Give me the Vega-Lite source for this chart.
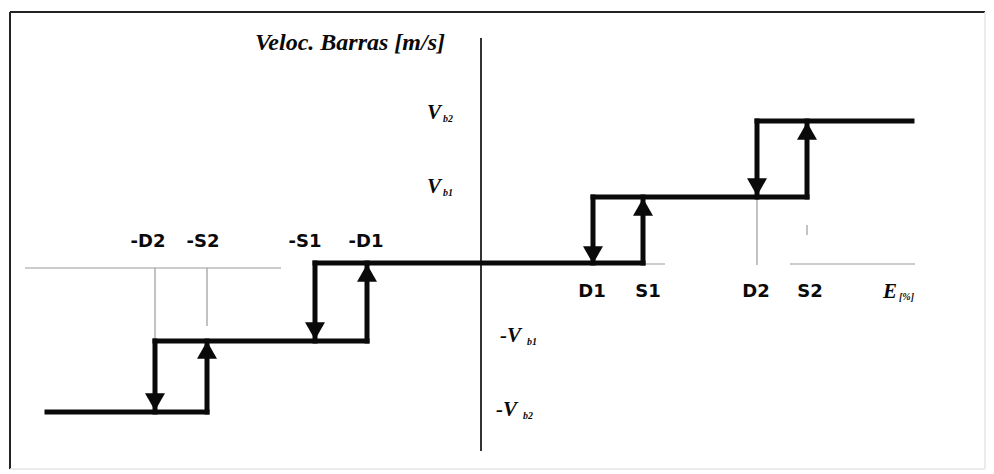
{
  "$schema": "https://vega.github.io/schema/vega-lite/v6.json",
  "width": 994,
  "height": 474,
  "autosize": {"type": "fit", "contains": "padding"},
  "padding": 0,
  "background": "white",
  "config": {"view": {"stroke": null}},
  "datasets": {
    "frameDark": [
      {"x": -4.71, "x2": -4.71, "y": 2.52, "y2": -2.05},
      {"x": -4.71, "x2": 5.04, "y": 2.52, "y2": 2.52}
    ],
    "frameLight": [
      {"x": 5.04, "x2": 5.04, "y": 2.52, "y2": -2.05},
      {"x": -4.71, "x2": 5.04, "y": -2.05, "y2": -2.05}
    ],
    "axes": [
      {"x": 0, "x2": 0, "y": 2.26, "y2": -1.87}
    ],
    "guides": [
      {"x": -4.56, "x2": -2.0, "y": -0.04, "y2": -0.04},
      {"x": -1.66, "x2": 1.84, "y": 0.0, "y2": 0.0},
      {"x": 3.09, "x2": 4.34, "y": 0.0, "y2": 0.0},
      {"x": -3.26, "x2": -3.26, "y": -0.04, "y2": -0.77},
      {"x": -2.74, "x2": -2.74, "y": -0.04, "y2": -0.62},
      {"x": 2.76, "x2": 2.76, "y": 0.67, "y2": -0.01},
      {"x": 3.26, "x2": 3.26, "y": 0.39, "y2": 0.29}
    ],
    "steps": [
      {"x": -4.34, "x2": -2.74, "y": -1.48, "y2": -1.48},
      {"x": -2.74, "x2": -2.74, "y": -1.48, "y2": -0.77},
      {"x": -3.26, "x2": -3.26, "y": -1.48, "y2": -0.77},
      {"x": -3.26, "x2": -1.14, "y": -0.77, "y2": -0.77},
      {"x": -1.14, "x2": -1.14, "y": -0.77, "y2": 0.01},
      {"x": -1.66, "x2": -1.66, "y": -0.77, "y2": 0.01},
      {"x": -1.66, "x2": 1.62, "y": 0.01, "y2": 0.01},
      {"x": 1.12, "x2": 1.12, "y": 0.01, "y2": 0.67},
      {"x": 1.62, "x2": 1.62, "y": 0.01, "y2": 0.67},
      {"x": 1.12, "x2": 3.26, "y": 0.67, "y2": 0.67},
      {"x": 2.76, "x2": 2.76, "y": 0.67, "y2": 1.43},
      {"x": 3.26, "x2": 3.26, "y": 0.67, "y2": 1.43},
      {"x": 2.76, "x2": 4.31, "y": 1.43, "y2": 1.43}
    ],
    "arrows": [
      {"x": -2.74, "y": -0.86, "dir": "up"},
      {"x": -1.14, "y": -0.09, "dir": "up"},
      {"x": 1.62, "y": 0.57, "dir": "up"},
      {"x": 3.26, "y": 1.33, "dir": "up"},
      {"x": -3.26, "y": -1.38, "dir": "down"},
      {"x": -1.66, "y": -0.67, "dir": "down"},
      {"x": 1.12, "y": 0.09, "dir": "down"},
      {"x": 2.76, "y": 0.77, "dir": "down"}
    ],
    "tickLabels": [
      {"x": -3.33, "y": 0.22, "label": "-D2"},
      {"x": -2.78, "y": 0.22, "label": "-S2"},
      {"x": -1.76, "y": 0.22, "label": "-S1"},
      {"x": -1.15, "y": 0.22, "label": "-D1"},
      {"x": 1.11, "y": -0.28, "label": "D1"},
      {"x": 1.67, "y": -0.28, "label": "S1"},
      {"x": 2.75, "y": -0.28, "label": "D2"},
      {"x": 3.29, "y": -0.28, "label": "S2"}
    ],
    "title": [
      {"x": -1.31, "y": 2.21, "label": "Veloc. Barras [m/s]"}
    ],
    "symbols": [
      {"x": -0.54, "y": 1.51, "label": "V"},
      {"x": -0.54, "y": 0.77, "label": "V"},
      {"x": 0.19, "y": -0.72, "label": "-V"},
      {"x": 0.15, "y": -1.46, "label": "-V"},
      {"x": 4.02, "y": -0.28, "label": "E"}
    ],
    "subs": [
      {"x": -0.38, "y": 1.45, "label": "b2"},
      {"x": -0.38, "y": 0.71, "label": "b1"},
      {"x": 0.46, "y": -0.78, "label": "b1"},
      {"x": 0.42, "y": -1.52, "label": "b2"},
      {"x": 4.18, "y": -0.33, "label": "[%]"}
    ]
  },
  "encoding": {
    "x": {"field": "x", "type": "quantitative", "axis": null,
          "scale": {"domain": [-4.81, 5.13], "nice": false, "zero": false}},
    "y": {"field": "y", "type": "quantitative", "axis": null,
          "scale": {"domain": [-2.10, 2.64], "nice": false, "zero": false}}
  },
  "layer": [
    {
      "data": {"name": "frameDark"},
      "mark": {"type": "rule", "stroke": "#222", "strokeWidth": 2},
      "encoding": {"x2": {"field": "x2"}, "y2": {"field": "y2"}}
    },
    {
      "data": {"name": "frameLight"},
      "mark": {"type": "rule", "stroke": "#e4e4e4", "strokeWidth": 1.5},
      "encoding": {"x2": {"field": "x2"}, "y2": {"field": "y2"}}
    },
    {
      "data": {"name": "guides"},
      "mark": {"type": "rule", "stroke": "#9a9a9a", "strokeWidth": 1.2},
      "encoding": {"x2": {"field": "x2"}, "y2": {"field": "y2"}}
    },
    {
      "data": {"name": "axes"},
      "mark": {"type": "rule", "stroke": "#333", "strokeWidth": 2},
      "encoding": {"x2": {"field": "x2"}, "y2": {"field": "y2"}}
    },
    {
      "data": {"name": "steps"},
      "mark": {"type": "rule", "stroke": "#0a0a0a", "strokeWidth": 5, "strokeCap": "square"},
      "encoding": {"x2": {"field": "x2"}, "y2": {"field": "y2"}}
    },
    {
      "data": {"name": "arrows"},
      "mark": {"type": "point", "filled": true, "color": "#0a0a0a", "size": 400, "opacity": 1},
      "encoding": {
        "shape": {"field": "dir", "type": "nominal", "legend": null,
                  "scale": {"domain": ["up", "down"], "range": ["triangle-up", "triangle-down"]}}
      }
    },
    {
      "data": {"name": "tickLabels"},
      "mark": {"type": "text", "font": "DejaVu Sans", "fontWeight": "bold", "fontSize": 18,
               "align": "center", "baseline": "middle", "color": "#0a0a0a"},
      "encoding": {"text": {"field": "label"}}
    },
    {
      "data": {"name": "title"},
      "mark": {"type": "text", "font": "Liberation Serif", "fontWeight": "bold", "fontStyle": "italic",
               "fontSize": 24, "align": "center", "baseline": "middle", "color": "#0a0a0a"},
      "encoding": {"text": {"field": "label"}}
    },
    {
      "data": {"name": "symbols"},
      "mark": {"type": "text", "font": "Liberation Serif", "fontWeight": "bold", "fontStyle": "italic",
               "fontSize": 21, "align": "left", "baseline": "middle", "color": "#0a0a0a"},
      "encoding": {"text": {"field": "label"}}
    },
    {
      "data": {"name": "subs"},
      "mark": {"type": "text", "font": "Liberation Serif", "fontWeight": "bold", "fontStyle": "italic",
               "fontSize": 10, "align": "left", "baseline": "middle", "color": "#0a0a0a"},
      "encoding": {"text": {"field": "label"}}
    }
  ]
}
